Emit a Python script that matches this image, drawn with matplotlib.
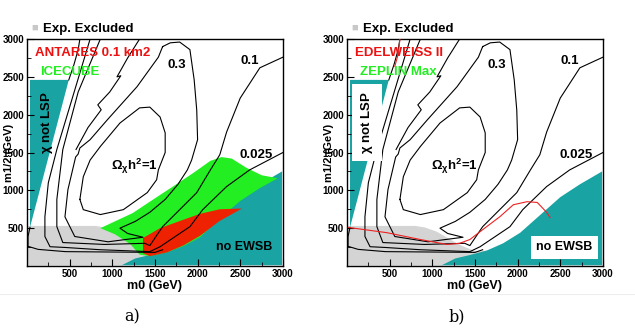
import numpy as np
import matplotlib.pyplot as plt
from matplotlib.patches import Polygon

plt.rcParams["font.family"] = ["Liberation Sans", "DejaVu Sans"]
plt.rcParams["mathtext.default"] = "regular"

# ---- regions (m0, m1/2 in GeV) ----
lsp_x = [35, 490, 35]
lsp_y = [2460, 2460, 510]

ewsb_x = [1110, 1270, 1440, 1640, 1830, 2030, 2230, 2500, 2730, 2990, 2990]
ewsb_y = [10, 100, 145, 205, 300, 440, 640, 910, 1080, 1250, 10]

excl_x = [12, 800, 910, 1050, 1210, 1360, 1520, 1770, 1640, 1440, 1270, 1110, 12]
excl_y = [530, 530, 510, 455, 350, 260, 190, 220, 185, 130, 85, 5, 5]

green_x = [860, 1050, 1240, 1440, 1710, 1950, 2150, 2280, 2400, 2570, 2750, 2940,
           2730, 2500, 2230, 2030, 1830, 1640, 1440, 1320, 1210, 1030]
green_y = [500, 600, 700, 850, 1050, 1230, 1390, 1440, 1420, 1300, 1200, 1160,
           1030, 860, 600, 380, 260, 180, 130, 150, 290, 420]

red_x = [1360, 1560, 1830, 2030, 2260, 2520, 2250, 2030, 1830, 1640, 1440, 1360]
red_y = [370, 500, 610, 690, 750, 760, 590, 400, 270, 180, 130, 170]

# ---- relic density contours ----
om1_x = [620, 660, 740, 860, 1090, 1320, 1440, 1560, 1620, 1620, 1540, 1520, 1410, 1130, 860, 660, 620]
om1_y = [880, 1180, 1400, 1580, 1890, 2090, 2100, 1970, 1760, 1500, 1270, 1140, 970, 745, 680, 745, 880]

c03_x = [1590, 1540, 1290, 940, 740, 620, 600, 570, 480, 445, 560, 950, 1360, 1180, 1090, 1270,
         1440, 1620, 1770, 1880, 1930, 2000, 1990, 1960, 1910, 1790, 1680, 1590]
c03_y = [2900, 2760, 2370, 1930, 1670, 1560, 1480, 1440, 1010, 650, 390, 320, 380, 430, 500, 590,
         710, 880, 1080, 1270, 1400, 1670, 2060, 2460, 2860, 2960, 2950, 2900]

c03b_x = [1320, 1180, 1055, 1100, 970, 830, 870, 715, 575]
c03b_y = [3000, 2750, 2500, 2515, 2300, 2130, 2065, 1830, 1540]

c01_x = [3000, 2730, 2500, 2340, 2260, 2150, 1990, 1790, 1590, 1440, 1380, 910, 420, 350, 350,
         420, 600, 860]
c01_y = [2760, 2620, 2220, 1770, 1470, 1270, 970, 745, 520, 270, 300, 285, 310, 520, 880,
         1540, 2300, 3000]

c0025_x = [3000, 2610, 2340, 2060, 1910, 1560, 1440, 860, 450, 270, 210, 210, 250, 350, 740]
c0025_y = [1500, 1270, 1050, 745, 520, 255, 190, 215, 245, 255, 390, 650, 1100, 1540, 3000]

lsp_line_x = [620, 600, 550, 490]
lsp_line_y = [3000, 2860, 2660, 2460]

bottom_x = [35, 12, 12, 130, 450, 1500, 1590]
bottom_y = [510, 390, 260, 220, 190, 180, 215]

# EDELWEISS II sensitivity (panel b)
edel_x = [15, 470, 860, 1170, 1320, 1440, 1590, 1790, 1950, 2110, 2230, 2340, 2380]
edel_y = [510, 440, 350, 285, 300, 350, 480, 650, 810, 850, 840, 710, 640]
edel_top_x = [620, 600, 560]
edel_top_y = [3000, 2800, 2640]

teal = "#19a3a3"
excl_gray = "#d4d4d4"

fig = plt.figure(figsize=(6.35, 3.28), dpi=100)
panels = [fig.add_axes([0.0425, 0.189, 0.403, 0.692]),
          fig.add_axes([0.5465, 0.189, 0.403, 0.692])]

for i, ax in enumerate(panels):
    ax.set_xlim(0, 3000)
    ax.set_ylim(0, 3000)
    ax.add_patch(Polygon(np.column_stack([excl_x, excl_y]), color=excl_gray, lw=0, zorder=1))
    ax.add_patch(Polygon(np.column_stack([lsp_x, lsp_y]), color=teal, lw=0, zorder=1))
    ax.add_patch(Polygon(np.column_stack([ewsb_x, ewsb_y]), color=teal, lw=0, zorder=1))
    if i == 0:
        ax.add_patch(Polygon(np.column_stack([green_x, green_y]), color="#22ee22", lw=0, zorder=2))
        ax.add_patch(Polygon(np.column_stack([red_x, red_y]), color="#ee2200", lw=0, zorder=2))
    for cx, cy in [(om1_x, om1_y), (c03_x, c03_y), (c03b_x, c03b_y), (c01_x, c01_y),
                   (c0025_x, c0025_y), (lsp_line_x, lsp_line_y), (bottom_x, bottom_y)]:
        ax.plot(cx, cy, color="k", lw=0.8, zorder=3)
    if i == 1:
        ax.plot(edel_x, edel_y, color="#ee2222", lw=0.8, zorder=4)
        ax.plot(edel_top_x, edel_top_y, color="#ee2222", lw=0.8, zorder=4)

    ax.set_xticks([500, 1000, 1500, 2000, 2500, 3000])
    ax.set_yticks([500, 1000, 1500, 2000, 2500, 3000])
    ax.set_xticks(np.arange(0, 3001, 250), minor=True)
    ax.set_yticks(np.arange(0, 3001, 250), minor=True)
    ax.tick_params(direction="in", length=5, width=0.8, labelsize=7, pad=2)
    ax.tick_params(which="minor", direction="in", length=3, width=0.6)
    for lab in ax.get_xticklabels() + ax.get_yticklabels():
        lab.set_fontweight("bold")
    for s in ax.spines.values():
        s.set_linewidth(1.0)
    ax.set_xlabel("m0 (GeV)", fontsize=9, fontweight="bold", labelpad=1)
    ax.set_ylabel("m1/2 (GeV)", fontsize=8, fontweight="bold", labelpad=-8)

    box = dict(facecolor="white", edgecolor="none", pad=5) if i == 1 else None
    ax.text(235, 1900, r"$\chi$ not LSP", rotation=90, ha="center", va="center",
            fontsize=9.5, fontweight="bold", zorder=5, bbox=box)
    box2 = dict(facecolor="white", edgecolor="none", pad=4) if i == 1 else None
    ax.text(2550, 250, "no EWSB", ha="center", va="center", fontsize=9,
            fontweight="bold", zorder=5, bbox=box2)
    ax.text(1650, 2660, "0.3", fontsize=9.5, fontweight="bold", va="center", zorder=5)
    ax.text(2500, 2710, "0.1", fontsize=9.5, fontweight="bold", va="center", zorder=5)
    ax.text(2490, 1470, "0.025", fontsize=9.5, fontweight="bold", va="center", zorder=5)
    ax.text(990, 1310, r"$\Omega_\chi$h$^2$=1", fontsize=9.5, fontweight="bold",
            va="center", zorder=5)

    ax.text(0.018, 1.035, "\u25a0", color="#c8c8c8", fontsize=8, transform=ax.transAxes)
    ax.text(0.062, 1.03, "Exp. Excluded", fontsize=9.5, fontweight="bold", transform=ax.transAxes)

labels = [("ANTARES 0.1 km2", "ICECUBE"), ("EDELWEISS II", "ZEPLIN Max")]
for ax, (r, g) in zip(panels, labels):
    ax.text(90, 2810, r, color="#ee1111", fontsize=9.5, fontweight="bold", va="center", zorder=6)
    ax.text(150, 2560, g, color="#22ee22", fontsize=9.5, fontweight="bold", va="center", zorder=6)

fig.add_artist(plt.Line2D([0, 1], [0.105, 0.105], color="#eeeeee", lw=0.8))
fig.text(0.208, 0.02, "a)", fontsize=11.5, family="DejaVu Serif", ha="center")
fig.text(0.72, 0.02, "b)", fontsize=11.5, family="DejaVu Serif", ha="center")

fig.savefig("out.png", dpi=100)
